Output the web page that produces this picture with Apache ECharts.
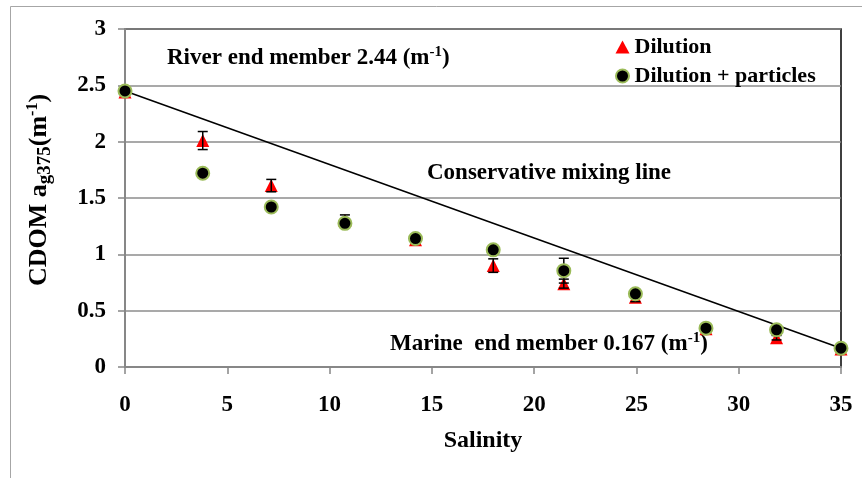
<!DOCTYPE html>
<html>
<head>
<meta charset="utf-8">
<script src="https://cdn.jsdelivr.net/npm/echarts@6/dist/echarts.min.js"></script>
<style>html,body{margin:0;padding:0;background:#fff}#c{width:862px;height:478px}</style>
</head>
<body>
<div id="c"></div>
<script>
const salinity = [0, 3.8, 7.15, 10.75, 14.2, 18.0, 21.45, 24.95, 28.4, 31.85, 35];
const dilution = [2.44, 2.01, 1.61, 1.30, 1.13, 0.90, 0.74, 0.62, 0.34, 0.26, 0.16];
const dilutionErr = [0.02, 0.08, 0.055, 0.05, 0.03, 0.06, 0.04, 0.04, 0.02, 0.02, 0.02];
const particles = [2.45, 1.72, 1.42, 1.275, 1.14, 1.04, 0.855, 0.65, 0.345, 0.33, 0.167];
const particlesErr = [0, 0, 0, 0.03, 0.02, 0, 0.11, 0.03, 0, 0, 0];
const mixingSalinity = [0, 35];
const mixingValues = [2.45, 0.167];
const xTicks = [0, 5, 10, 15, 20, 25, 30, 35];
const yTicks = [0, 0.5, 1, 1.5, 2, 2.5, 3];

const FONT = "'Liberation Serif', 'Times New Roman', serif";
const chart = echarts.init(document.getElementById('c'));

function pairs(xs, ys) { return xs.map((x, i) => [x, ys[i]]); }
function errData(xs, ys, es) {
  return xs.map((x, i) => [x, ys[i], es[i]]).filter(d => d[2] > 0);
}
function errRender(params, api) {
  const x = api.value(0), y = api.value(1), e = api.value(2);
  const top = api.coord([x, y + e]);
  const bot = api.coord([x, y - e]);
  const hw = 5;
  const st = { stroke: '#000', lineWidth: 1.5 };
  return {
    type: 'group',
    children: [
      { type: 'line', shape: { x1: top[0], y1: top[1], x2: bot[0], y2: bot[1] }, style: st },
      { type: 'line', shape: { x1: top[0] - hw, y1: top[1], x2: top[0] + hw, y2: top[1] }, style: st },
      { type: 'line', shape: { x1: bot[0] - hw, y1: bot[1], x2: bot[0] + hw, y2: bot[1] }, style: st }
    ]
  };
}

const boldText = { fontFamily: FONT, fontWeight: 'bold', color: '#000' };
const annRich = {
  n: Object.assign({ fontSize: 23 }, boldText),
  sup: Object.assign({ fontSize: 15, padding: [0, 0, 12, 0] }, boldText)
};

chart.setOption({
  animation: false,
  backgroundColor: '#fff',
  grid: { left: 125, right: 21, top: 29, bottom: 111, show: true, borderColor: '#000', borderWidth: 1.5, backgroundColor: 'transparent' },
  xAxis: {
    type: 'value', min: 0, max: 35, interval: 5,
    name: 'Salinity', nameLocation: 'middle', nameGap: 62,
    nameTextStyle: Object.assign({ fontSize: 24 }, boldText),
    axisLine: { show: true, lineStyle: { color: '#878787', width: 2 } },
    axisTick: { show: true, length: 7, lineStyle: { color: '#878787', width: 1.5 } },
    axisLabel: Object.assign({ fontSize: 23, margin: 27 }, boldText),
    splitLine: { show: false }
  },
  yAxis: {
    type: 'value', min: 0, max: 3, interval: 0.5,
    name: '{n|CDOM a}{sub|g375}{n|(m}{sup|-1}{n|)}', nameLocation: 'middle', nameGap: 70, nameRotate: 90,
    nameTextStyle: {
      padding: [0, 0, 0, 16],
      rich: {
        n: Object.assign({ fontSize: 26 }, boldText),
        sub: Object.assign({ fontSize: 19, padding: [12, 0, 0, 0] }, boldText),
        sup: Object.assign({ fontSize: 16, padding: [0, 0, 14, 0] }, boldText)
      }
    },
    axisLine: { show: true, lineStyle: { color: '#878787', width: 2 } },
    axisTick: { show: true, length: 7, lineStyle: { color: '#878787', width: 1.5 } },
    axisLabel: Object.assign({ fontSize: 23, margin: 19, formatter: v => String(v) }, boldText),
    splitLine: { show: true, lineStyle: { color: '#8c8c8c', width: 1.5 } }
  },
  legend: {
    orient: 'vertical', left: 610, top: 31, itemGap: 7, itemWidth: 14, itemHeight: 13,
    textStyle: Object.assign({ fontSize: 22 }, boldText),
    data: [
      { name: 'Dilution', icon: 'triangle' },
      { name: 'Dilution + particles', icon: 'circle' }
    ]
  },
  graphic: [
    { type: 'rect', shape: { x: 10.5, y: 6.5, width: 900, height: 500 }, style: { fill: 'none', stroke: '#a6a6a6', lineWidth: 1 }, z: -10 },
    { type: 'text', left: 167, top: 45, style: { text: '{n|River end member 2.44 (m}{sup|-1}{n|)}', rich: annRich } },
    { type: 'text', left: 427, top: 162, style: { text: 'Conservative mixing line', font: 'bold 23px ' + FONT, fill: '#000' } },
    { type: 'text', left: 390, top: 331, style: { text: '{n|Marine  end member 0.167 (m}{sup|-1}{n|)}', rich: annRich } }
  ],
  series: [
    {
      name: 'Mixing line', type: 'line', data: pairs(mixingSalinity, mixingValues),
      showSymbol: false, symbol: 'none', lineStyle: { color: '#000', width: 1.5 }, z: 2, silent: true
    },
    {
      name: 'Dilution', type: 'scatter', data: pairs(salinity, dilution),
      symbol: 'triangle', symbolSize: 13, itemStyle: { color: '#ff0000', opacity: 1 }, z: 3
    },
    {
      name: 'Dilution err', type: 'custom', data: errData(salinity, dilution, dilutionErr),
      renderItem: errRender, z: 4, silent: true
    },
    {
      name: 'Dilution + particles', type: 'scatter', data: pairs(salinity, particles),
      symbol: 'circle', symbolSize: 13, itemStyle: { color: '#000', borderColor: '#9bbb59', borderWidth: 2, opacity: 1 }, z: 5
    },
    {
      name: 'Particles err', type: 'custom', data: errData(salinity, particles, particlesErr),
      renderItem: errRender, z: 4, silent: true
    }
  ]
});
</script>
</body>
</html>
